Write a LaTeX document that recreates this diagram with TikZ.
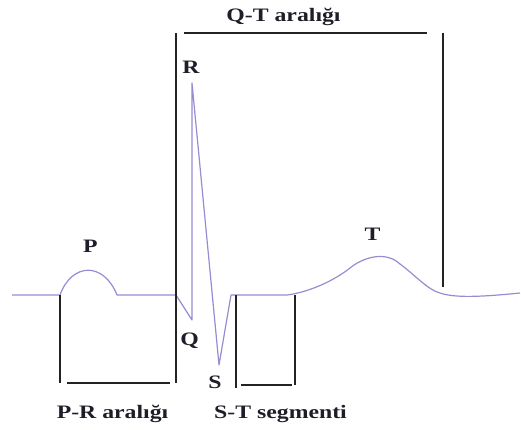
\documentclass[tikz,border=0pt]{standalone}
\usepackage{fontspec}
\setmainfont{Liberation Serif}
\definecolor{trace}{RGB}{150,140,210}
\definecolor{bar}{RGB}{35,35,35}
\definecolor{txt}{RGB}{30,30,40}
\begin{document}
\begin{tikzpicture}[x=1pt,y=-1pt,
  ecg/.style={draw=trace,line width=1.2pt,line join=round},
  barline/.style={draw=bar,line width=1.2pt},
  lbl/.style={text=txt,font=\fontsize{19}{22}\selectfont\bfseries,xscale=1.25,inner sep=0pt,anchor=base}]
\useasboundingbox (0,0) rectangle (521,429);
% ECG trace
\draw[ecg] (12,295) -- (60,295)
  .. controls (72,262) and (104,262) .. (117,295)
  -- (176,295) -- (192,320) -- (192,83) -- (219,365) -- (231,295) -- (287,295)
  .. controls (310,292) and (335,280) .. (350,268)
  .. controls (362,258) and (385,250) .. (400,264)
  .. controls (415,275) and (428,290) .. (440,293)
  .. controls (455,298) and (480,297) .. (520,293);
% coordinates for interval bars
\coordinate (pr1) at (60,295);
\coordinate (pr2) at (60,383);
\coordinate (pr3) at (67,383);
\coordinate (pr4) at (170,383);
\coordinate (qt1) at (176,33);
\coordinate (qt2) at (176,383);
\coordinate (qt3) at (184,33);
\coordinate (qt4) at (427,33);
\coordinate (qt5) at (443,33);
\coordinate (qt6) at (443,287);
\coordinate (st1) at (236,295);
\coordinate (st2) at (236,388);
\coordinate (st3) at (241,385);
\coordinate (st4) at (292,385);
\coordinate (st5) at (295,295);
\coordinate (st6) at (295,385);
\draw[barline] (pr1) -- (pr2);
\draw[barline] (pr3) -- (pr4);
\draw[barline] (qt1) -- (qt2);
\draw[barline] (qt3) -- (qt4);
\draw[barline] (qt5) -- (qt6);
\draw[barline] (st1) -- (st2);
\draw[barline] (st3) -- (st4);
\draw[barline] (st5) -- (st6);
% labels
\node[lbl] (qtl) at (283.5,21) {Q-T aralığı};
\node[lbl] (prl) at (112.5,418) {P-R aralığı};
\node[lbl] (stl) at (280.5,418) {S-T segmenti};
\node[lbl] (pl) at (90.5,252) {P};
\node[lbl] (rl) at (191,73) {R};
\node[lbl] (tl) at (372.5,240) {T};
\node[lbl] (ql) at (189.5,345) {Q};
\node[lbl] (sl) at (215,388) {S};
\end{tikzpicture}
\end{document}
